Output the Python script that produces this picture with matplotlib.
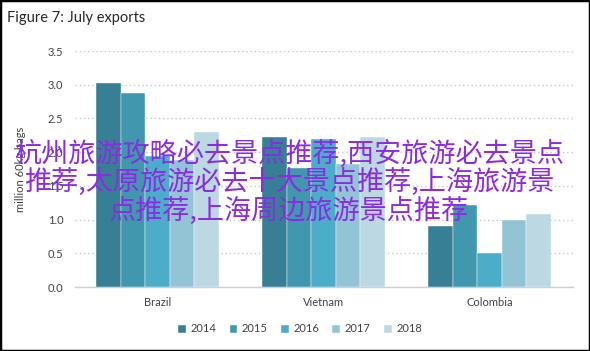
import matplotlib
matplotlib.use("Agg")
import matplotlib.pyplot as plt
import numpy as np
from matplotlib.patches import Rectangle

categories = ["Brazil", "Vietnam", "Colombia"]
years = ["2014", "2015", "2016", "2017", "2018"]
values = {
    "2014": [3.03, 2.22, 0.90],
    "2015": [2.88, 1.76, 1.21],
    "2016": [1.95, 2.20, 0.50],
    "2017": [1.88, 1.82, 1.00],
    "2018": [2.30, 2.22, 1.08],
}
colors = ["#367F94", "#4097AE", "#4BADC7", "#93C4D6", "#BCD8E3"]
yticks = [0.0, 0.5, 1.0, 1.5, 2.0, 2.5, 3.0, 3.5]
title = "Figure 7: July exports"
ylabel = "million 60kg bags"
overlay = "杭州旅游攻略必去景点推荐,西安旅游必去景点\n推荐,太原旅游必去十大景点推荐,上海旅游景\n点推荐,上海周边旅游景点推荐"

plt.rcParams['font.family'] = ['Lato', 'DejaVu Sans']

fig = plt.figure(figsize=(5.9, 3.51), dpi=100)
ax = fig.add_axes([74.5/590, 64/351, 498/590, 236/351])

x = np.arange(len(categories))
bw = 0.148
for i, y in enumerate(years):
    ax.bar(x + (i - 2) * bw, values[y], width=bw, color=colors[i], label=y,
           edgecolor='white', linewidth=0.3, zorder=3)

ax.set_xlim(-0.5, 2.5)
ax.set_ylim(0, 3.5)
ax.set_yticks(yticks)
ax.set_yticklabels([f"{t:.1f}" for t in yticks], fontsize=8, color='#404040')
ax.set_xticks(x)
ax.set_xticklabels(categories, fontsize=8, color='#404040')
ax.tick_params(axis='both', length=0, pad=8)
ax.tick_params(axis='x', pad=7)
ax.grid(axis='y', linestyle=(0, (1, 2)), color='#C8C8C8', linewidth=1.0, zorder=0)
for s in ['top', 'right', 'left']:
    ax.spines[s].set_visible(False)
ax.spines['bottom'].set_color('#D0D0D0')
ax.spines['bottom'].set_linewidth(1.0)
ax.set_ylabel(ylabel, fontsize=8, color='#404040')
ax.yaxis.set_label_coords(-0.097, 0.5)

fig.text(7/590, 1 - 18/351, title, fontsize=10.5, color='#262626', va='center', ha='left')

leg = fig.legend(loc='center', bbox_to_anchor=(300/590, 1 - 329/351), ncol=5, frameon=False,
                 fontsize=8, handlelength=0.7, handleheight=0.7, handletextpad=0.4,
                 columnspacing=1.2)
for t in leg.get_texts():
    t.set_color('#404040')

fig.text(289/590, 1 - 182/351, overlay, fontsize=19.5, color='#8B2BE2', ha='center', va='center',
         family=['Noto Sans CJK SC', 'DejaVu Sans'], weight='medium', linespacing=1.02, zorder=10)

fig.add_artist(Rectangle((0, 0), 1, 1, transform=fig.transFigure, fill=False,
                         edgecolor='black', linewidth=2.5))

fig.savefig("out.png", dpi=100)
